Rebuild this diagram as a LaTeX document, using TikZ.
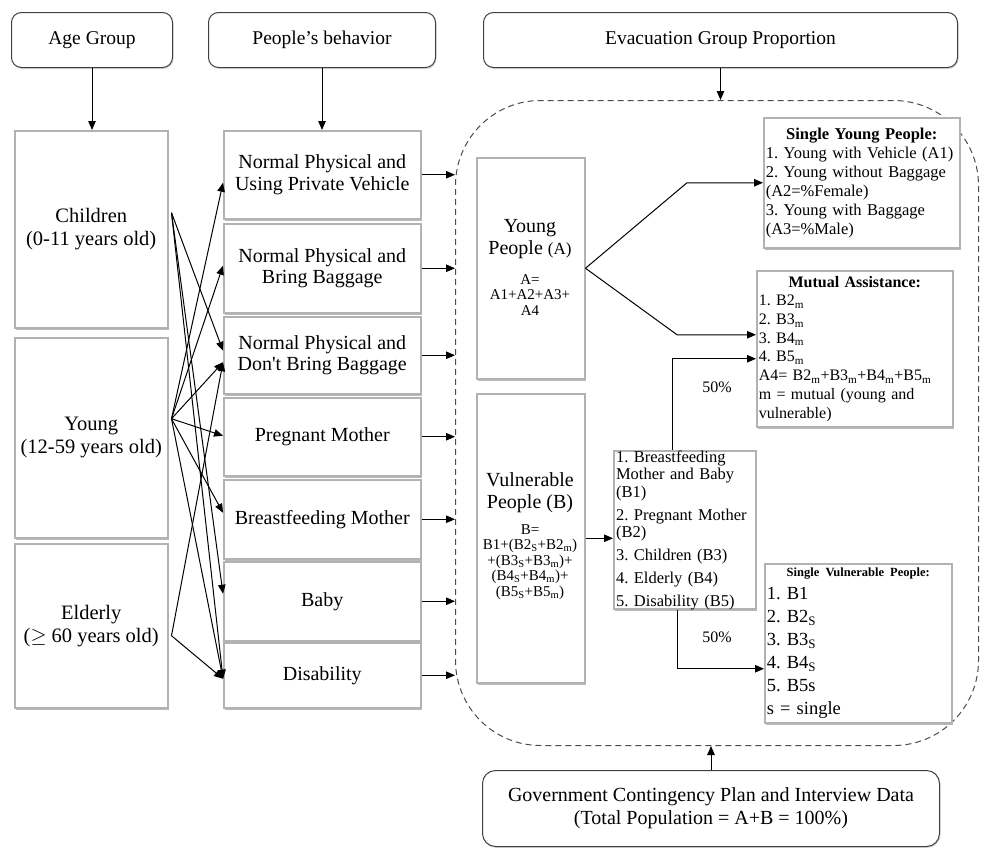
\documentclass[tikz,border=0pt]{standalone}
\usepackage{fontspec}
\setmainfont{Liberation Serif}
\usetikzlibrary{arrows.meta,shadows,calc}
\newcommand\fz[2]{\fontsize{#1bp}{#2bp}\selectfont}
\frenchspacing
\begin{document}
\frenchspacing
\begin{tikzpicture}[x=1bp,y=-1bp,
  corners/.style n args={4}{anchor=north west, at={(#1,#2)},
    minimum width={(#3-#1)*1bp}, minimum height={(#4-#2)*1bp}},
  hdr/.style={draw=black!75, line width=1bp, rounded corners=10bp, fill=white,
    inner sep=0pt, align=center, font=\fz{19.5}{23},
    drop shadow={shadow xshift=1bp, shadow yshift=-1.5bp, fill=black!30}},
  box/.style={draw=black!30, line width=1.5bp, fill=white, inner sep=0pt, align=center,
    drop shadow={shadow xshift=1.5bp, shadow yshift=-2.5bp, fill=black!55}},
  rbox/.style={draw=black!30, line width=1.5bp, fill=white, inner xsep=2bp, inner ysep=0pt,
    drop shadow={shadow xshift=1.5bp, shadow yshift=-2.5bp, fill=black!55}},
  big/.style={font=\fz{20.5}{23}},
  title/.style={font=\fz{20}{22}, align=center, inner sep=0pt},
  formula/.style={font=\fz{15}{15.5}, align=center, inner sep=0pt},
  lbl/.style={font=\fz{16}{18}, inner sep=0pt},
  arr/.style={draw=black, line width=1bp, -{Triangle[length=9bp,width=7.5bp]}},
  ln/.style={draw=black, line width=1bp}
]
\useasboundingbox (0,0) rectangle (982,848);

% dashed region holding the evacuation groups
\node[draw=black!70, line width=1bp, dash pattern=on 6bp off 4bp, rounded corners=85bp,
      corners={455}{100}{978}{745}] (evac) {};

% column headers
\node[hdr, corners={11}{12}{172}{67}] (hage) {Age Group};
\node[hdr, corners={208}{12}{435}{67}] (hbeh) {People’s behavior};
\node[hdr, corners={483}{12}{957}{67}] (hevac) {Evacuation Group Proportion};

% age groups
\node[box, big, corners={14}{130}{167}{327}] (child) {Children\\(0-11 years old)};
\node[box, big, corners={14}{337}{167}{537}] (young) {Young\\(12-59 years old)};
\node[box, big, corners={14}{543}{167}{707}] (elder) {Elderly\\($\geq$ 60 years old)};

% behaviours
\begin{scope}[every node/.append style={font=\fz{20}{21.5}}]
\node[box, corners={223}{130}{420}{218}] (b1) {Normal Physical and\\Using Private Vehicle};
\node[box, corners={223}{223}{420}{312}] (b2) {Normal Physical and\\Bring Baggage};
\node[box, corners={223}{316}{420}{393}] (b3) {Normal Physical and\\Don\textquotesingle t Bring Baggage};
\node[box, corners={223}{397}{420}{475}] (b4) {Pregnant Mother};
\node[box, corners={223}{479}{420}{558}] (b5) {Breastfeeding Mother};
\node[box, corners={223}{561}{420}{640}] (b6) {Baby};
\node[box, corners={223}{642}{420}{707}] (b7) {Disability};
\end{scope}

% evacuation groups
\node[box, corners={476}{157}{584}{378}] (ya) {};
\node[title] (yat) at (530,239) {Young\\People {\fz{17}{22}(A)}};
\node[formula] (yaf) at (530,295) {A=\\A1+A2+A3+\\A4};

\node[box, corners={476}{393}{584}{682}] (vb) {};
\node[title] (vbt) at (530,493) {Vulnerable\\People (B)};
\node[formula] (vbf) at (530,562) {B=\\B1+(B2\textsubscript{S}+B2\textsubscript{m})\\+(B3\textsubscript{S}+B3\textsubscript{m})+\\(B4\textsubscript{S}+B4\textsubscript{m})+\\(B5\textsubscript{S}+B5\textsubscript{m})};

\node[box, corners={613}{450}{755}{608}] (vl) {};
\node[inner sep=0pt, text width=138bp, font=\fz{16.5}{17.5}] (vlt) at (685,530)
  {\frenchspacing\raggedright 1. Breastfeeding\\Mother and Baby\\(B1)\\[5.5bp]2. Pregnant Mother\\(B2)\\[5bp]3. Children (B3)\\[5.5bp]4. Elderly (B4)\\[5.5bp]5. Disability (B5)};

\node[rbox, corners={763}{117}{959}{247}, text width=192bp, font=\fz{16.5}{19}] (sy)
  {\frenchspacing\raggedright{\centering\bfseries Single Young People:\par}1. Young with Vehicle (A1)\\2. Young without Baggage\\(A2=\%Female)\\3. Young with Baggage\\(A3=\%Male)};

\node[rbox, corners={756}{270}{952}{426}, text width=192bp, font=\fz{16}{18.7}] (mu)
  {\frenchspacing\raggedright{\centering\bfseries Mutual Assistance:\par}1. B2\textsubscript{m}\\2. B3\textsubscript{m}\\3. B4\textsubscript{m}\\4. B5\textsubscript{m}\\A4= B2\textsubscript{m}+B3\textsubscript{m}+B4\textsubscript{m}+B5\textsubscript{m}\\m = mutual (young and\\vulnerable)};

\node[rbox, corners={764}{563}{951}{722}, text width=183bp, font=\fz{18.5}{23}] (sv)
  {\frenchspacing\raggedright{\centering\fz{12.5}{15}\bfseries Single Vulnerable People:\par}1. B1\\2. B2\textsubscript{S}\\3. B3\textsubscript{S}\\4. B4\textsubscript{S}\\5. B5s\\s = single};

\node[lbl] (p1) at (717,387) {50\%};
\node[lbl] (p2) at (717,637) {50\%};

% data source
\node[hdr, rounded corners=13bp, font=\fz{20}{23}, corners={482}{770}{939}{846}] (gov)
  {Government Contingency Plan and Interview Data\\(Total Population = A+B = 100\%)};

% header arrows
\draw[arr] (hage.south) -- (hage.south |- child.north);
\draw[arr] (hbeh.south) -- (hbeh.south |- b1.north);
\draw[arr] (hevac.south) -- (hevac.south |- evac.north);
\draw[arr] (gov.north) -- (gov.north |- evac.south);

% age group to behaviour links
\coordinate (cs) at ($(child.east)+(3,-16.5)$);
\coordinate (ys) at ($(young.east)+(3,-19)$);
\coordinate (es) at ($(elder.east)+(3,10)$);
\draw[arr] (ys) -- ($(b1.west)+(0,8)$);
\draw[arr] (ys) -- ($(b2.west)+(0,-2.5)$);
\draw[arr] (cs) -- ($(b3.west)+(0,-4.5)$);
\draw[arr] (ys) -- ($(b3.west)+(0,7)$);
\draw[arr] (es) -- ($(b3.west)+(0,7)$);
\draw[arr] (ys) -- ($(b4.west)+(0,-1)$);
\draw[arr] (ys) -- ($(b5.west)+(0,-6.5)$);
\draw[arr] (cs) -- ($(b6.west)+(0,-7.5)$);
\draw[arr] (cs) -- ($(b7.west)+(0,3.5)$);
\draw[arr] (ys) -- ($(b7.west)+(0,3.5)$);
\draw[arr] (es) -- ($(b7.west)+(0,3.5)$);

% behaviours into the evacuation region
\foreach \b in {b1,b2,b3,b4,b5,b6,b7}
  \draw[arr] (\b.east) -- (\b.east -| evac.west);

% young people split
\coordinate (mu1) at ($(mu.west)+(0,-14)$);
\coordinate (mu2) at ($(mu.west)+(0,10)$);
\coordinate (sv1) at ($(sv.west)+(0,25.5)$);
\draw[arr] (ya.east) -- ($(sy.west)+(-76,0)$) -- (sy.west);
\draw[arr] (ya.east) -- ($(mu1)+(-79,0)$) -- (mu1);

% vulnerable people split
\draw[arr] (vb.east) -- (vb.east -| vl.west);
\draw[arr] ($(vl.north)+(-12,0)$) |- (mu2);
\draw[arr] ($(vl.south)+(-7,0)$) |- (sv1);
\end{tikzpicture}
\end{document}
